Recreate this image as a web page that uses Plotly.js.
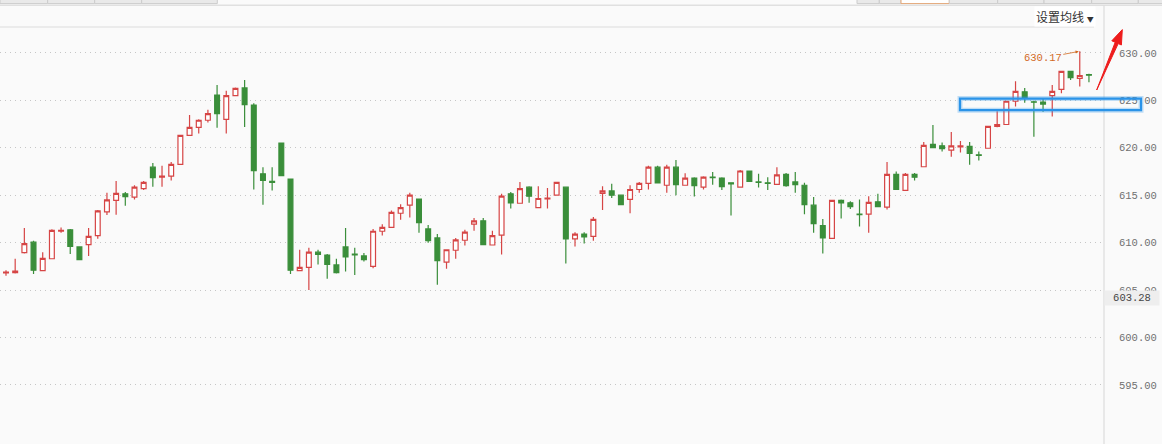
<!DOCTYPE html>
<html>
<head>
<meta charset="utf-8">
<script src="https://cdn.plot.ly/plotly-3.0.1.min.js"></script>
<style>
html,body{margin:0;padding:0;background:#fafafa;}
#chart{width:1162px;height:444px;}
</style>
</head>
<body>
<div id="chart"></div>
<script>
// ---- data ----
var openVals = [606.8,606.85,608.95,610.05,607.05,608.3,611.2,611.35,609.55,609.8,
610.75,613.25,614.45,615.15,614.8,615.7,617.95,616.9,617.0,618.25,
621.3,622.15,622.9,625.55,623.0,625.5,626.3,624.5,617.25,616.45,
620.5,616.7,607.05,607.4,609.0,608.7,607.65,609.55,608.8,608.6,
607.5,611.2,611.6,613.1,613.95,614.6,611.45,610.5,607.95,609.2,
610.25,611.95,612.3,609.75,610.8,615.15,614.15,615.85,613.7,614.6,
615.0,615.85,610.4,610.9,610.65,615.2,615.45,615.0,614.55,615.6,
616.25,617.95,616.05,617.95,616.05,616.8,615.85,616.9,616.8,616.3,
615.85,617.55,616.4,616.3,616.15,617.2,616.4,616.05,613.95,611.8,
610.45,614.45,614.2,613.0,613.0,614.3,613.75,617.2,615.5,617.2,
618.0,620.35,620.2,619.75,620.1,620.15,619.25,619.95,622.25,622.45,
624.9,625.9,624.85,624.8,625.5,626.15,628.05,627.3,627.7];
var highVals = [607.1,608.3,611.55,610.2,609.0,611.4,611.6,611.45,609.55,611.55,
613.45,615.25,616.5,615.35,616.05,616.5,618.4,618.1,618.5,621.35,
623.45,623.0,624.0,626.6,626.0,626.35,627.15,624.7,617.95,617.95,
620.5,616.7,609.25,609.45,609.25,608.8,608.3,611.55,609.45,608.9,
611.45,611.95,613.4,614.05,615.25,614.6,611.85,610.9,609.25,610.5,
611.35,612.6,612.6,611.25,615.15,615.35,616.4,615.95,615.95,615.75,
616.35,615.85,611.1,611.1,612.7,615.95,616.2,615.0,616.05,616.4,
618.1,618.1,618.2,618.7,617.3,616.9,617.0,617.45,616.9,616.3,
617.65,617.55,617.25,616.9,617.95,617.35,617.45,616.3,614.8,612.5,
614.5,614.55,614.35,614.55,614.9,615.15,618.5,617.5,617.35,617.35,
620.6,622.4,620.55,621.65,620.7,620.6,619.6,622.3,623.85,624.9,
627.0,626.3,624.95,625.25,626.6,628.1,628.1,630.17,627.8];
var lowVals = [606.5,606.75,608.85,606.7,607.0,608.3,611.05,608.8,608.15,608.6,
610.4,612.9,612.95,613.9,614.55,615.55,615.9,615.9,616.55,618.25,
621.3,621.5,622.65,622.1,621.5,625.5,622.2,615.6,614.0,615.5,
617.05,606.7,607.05,605.0,607.7,606.2,606.75,606.95,606.6,608.0,
607.3,610.75,611.6,612.4,612.65,611.05,610.0,605.55,607.25,608.3,
609.7,611.25,609.8,609.75,608.75,613.6,614.15,614.2,613.7,613.6,
615.0,607.8,609.6,609.9,610.2,613.45,614.7,614.0,613.1,615.25,
615.6,616.3,615.25,615.0,616.05,614.85,615.6,616.1,615.55,612.85,
615.85,616.45,615.8,615.55,616.15,615.9,615.25,613.0,611.05,608.85,
610.45,612.55,613.55,611.7,611.05,613.8,613.5,615.6,615.5,616.55,
617.95,619.95,619.6,619.05,619.5,618.2,618.65,619.9,622.15,622.45,
624.35,624.75,621.15,623.8,623.3,625.75,627.15,626.45,626.9];
var closeVals = [606.9,607.0,609.9,607.1,608.35,611.3,611.3,609.6,608.2,610.65,
613.35,614.5,615.2,614.85,615.85,616.35,616.85,617.0,618.25,621.3,
622.15,622.9,623.6,623.6,625.5,626.25,624.55,617.6,616.55,616.35,
617.05,607.1,607.4,609.0,608.75,607.7,606.85,608.5,608.7,608.2,
611.2,611.6,613.2,613.7,615.0,612.1,610.2,608.1,609.25,610.3,
611.1,612.3,609.8,610.75,614.9,614.2,615.7,614.9,614.65,614.7,
616.35,610.4,610.9,610.6,612.45,615.45,615.0,614.0,615.6,616.25,
617.95,616.3,617.95,616.1,616.8,616.0,616.9,616.85,615.9,616.2,
617.55,616.45,616.35,616.25,617.15,616.0,616.1,614.0,612.0,610.5,
614.45,614.2,613.8,612.95,614.25,613.8,617.2,615.6,617.2,616.9,
620.25,620.0,619.9,620.2,620.2,619.4,619.2,622.25,622.45,624.9,
625.95,625.2,624.8,624.6,625.95,628.05,627.4,627.6,627.65];
var tickValues = [595,600,605,610,615,620,625,630];
var tickLabels = ["595.00","600.00","605.00","610.00","615.00","620.00","625.00","630.00"];
var lastPriceLabel = "603.28";
var maMenuLabel = "设置均线";

var xIdx = openVals.map(function(_, i){ return i + 1; });

// ---- pixel helpers for decorations ----
var PW = 1104, PT = 28, H = 444, PH = H - PT;
function px(x){ return x / PW; }
function py(y){ return (H - y) / PH; }

var maxHigh = Math.max.apply(null, highVals);
var maxIdx = highVals.indexOf(maxHigh);

var shapes = [];
// top strip cells
var leftCells = [[0,47.7],[47.7,94.7],[94.7,141.7],[141.7,217.3]];
var rightCells = [[857,879.3],[879.3,901],[901,949.3],[949.3,997.7],[997.7,1044],[1044,1091.7],[1091.7,1138.3],[1138.3,1163]];
leftCells.concat(rightCells).forEach(function(c){
  var sel = (c[0] === 901);
  shapes.push({type:'rect', xref:'paper', yref:'paper', x0:px(c[0]), x1:px(c[1]), y0:py(3.6), y1:py(-1),
    line:{color: sel ? '#e3a574' : '#cccccc', width:1}, fillcolor: sel ? '#ffffff' : '#e9e9e9', layer:'above'});
});
// header lines
shapes.push({type:'line', xref:'paper', yref:'paper', x0:0, x1:px(1162), y0:py(5.3), y1:py(5.3), line:{color:'#e0e0e0', width:1.5}});
shapes.push({type:'line', xref:'paper', yref:'paper', x0:0, x1:px(1094), y0:py(27), y1:py(27), line:{color:'#e6e6e6', width:1.5}});
// right axis separator
shapes.push({type:'line', xref:'paper', yref:'paper', x0:px(1104), x1:px(1104), y0:py(5.3), y1:py(444), line:{color:'#dcdcdc', width:1.2}});
// blue highlight box (glow + line)
shapes.push({type:'rect', xref:'paper', yref:'paper', x0:px(960), x1:px(1141), y0:py(110.2), y1:py(98.6), line:{color:'rgba(40,146,232,0.28)', width:5}, fillcolor:'rgba(0,0,0,0)'});
shapes.push({type:'rect', xref:'paper', yref:'paper', x0:px(960), x1:px(1141), y0:py(110.2), y1:py(98.6), line:{color:'#2a93e8', width:2.2}, fillcolor:'rgba(0,0,0,0)'});
// red arrow (tapered)
var pts = [[1096.7,90],[1115.2,42.3],[1111.8,40.8],[1122.3,29.6],[1121.4,45.0],[1118.2,43.6]];
var path = pts.map(function(p, i){ return (i ? 'L' : 'M') + px(p[0]).toFixed(5) + ',' + py(p[1]).toFixed(5); }).join(' ') + ' Z';
shapes.push({type:'path', xref:'paper', yref:'paper', path:path, fillcolor:'#ee1c1c', line:{color:'#ee1c1c', width:1}});

var annotations = [
  {xref:'paper', yref:'paper', x:px(1064.5), y:py(17), xanchor:'center', yanchor:'middle', showarrow:false,
   text: maMenuLabel + ' <span style="font-size:7px">▼</span>', bgcolor:'#ffffff', borderpad:1,
   font:{family:'Noto Sans CJK SC', size:12, color:'#333333'}},
  {xref:'paper', yref:'paper', x:px(1132), y:py(298), xanchor:'center', yanchor:'middle', showarrow:false,
   text: lastPriceLabel, bgcolor:'#eeeeee', width:52, height:12, borderpad:1,
   font:{family:'Liberation Mono', size:10.5, color:'#444444'}},
  {xref:'x', yref:'y', x:xIdx[maxIdx], y:maxHigh, ax:-37, ay:7, axref:'pixel', ayref:'pixel',
   text: maxHigh.toFixed(2), showarrow:true, arrowhead:2, arrowsize:0.8, arrowwidth:0.8, arrowcolor:'#d2691e',
   standoff:1, font:{family:'Liberation Mono', size:10.5, color:'#d2691e'}}
];

var trace = {
  type:'candlestick', x:xIdx, open:openVals, high:highVals, low:lowVals, close:closeVals,
  increasing:{line:{color:'#d64545', width:1.2}, fillcolor:'#ffffff'},
  decreasing:{line:{color:'#3a8e3a', width:1.2}, fillcolor:'#3a8e3a'},
  whiskerwidth:0, hoverinfo:'skip'
};

var layout = {
  width:1162, height:444,
  margin:{l:0, r:58, t:28, b:0, pad:0},
  paper_bgcolor:'#fafafa', plot_bgcolor:'#fafafa',
  showlegend:false, boxgap:0.25,
  xaxis:{range:[0.3463,120.64], visible:false, showgrid:false, zeroline:false, rangeslider:{visible:false}, fixedrange:true},
  yaxis:{side:'right', range:[588.78,632.62], tickvals:tickValues, ticktext:tickLabels,
    showgrid:true, gridcolor:'#c6c6c6', gridwidth:1, griddash:'1px,4px', zeroline:false, showline:false,
    ticks:'', ticklabelstandoff:14,
    tickfont:{family:'Liberation Mono', size:10.5, color:'#707070'}, fixedrange:true},
  shapes:shapes, annotations:annotations
};

Plotly.newPlot('chart', [trace], layout, {displayModeBar:false, staticPlot:true});
</script>
</body>
</html>
